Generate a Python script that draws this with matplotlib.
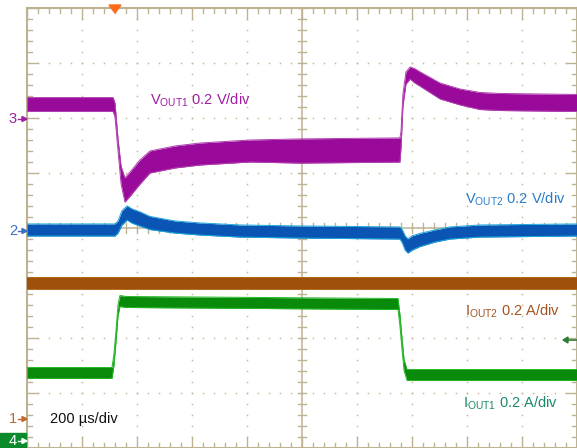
import numpy as np
import matplotlib
matplotlib.use("Agg")
import matplotlib.pyplot as plt
from matplotlib.transforms import Affine2D
from matplotlib.patches import Polygon, Rectangle
from matplotlib.lines import Line2D

plt.rcParams['font.family'] = ['Liberation Sans', 'DejaVu Sans']
plt.rcParams['mathtext.fontset'] = 'custom'
plt.rcParams['mathtext.rm'] = 'Liberation Sans'

# ---- data (time in µs from left edge, amplitude in screen divisions) ----
v1_t = [0, 313, 320, 331, 342, 356, 375, 411, 447, 538, 629, 811, 993, 1356, 1360, 1367, 1378, 1393, 1411, 1429, 1502, 1575, 1647, 1720, 2000]
v1_y = [6.245, 6.245, 6.145, 5.509, 4.964, 4.691, 4.80, 5.018, 5.20, 5.291, 5.345, 5.40, 5.40, 5.418, 5.60, 6.327, 6.727, 6.818, 6.764, 6.709, 6.491, 6.382, 6.309, 6.291, 6.273]
v1_hw = [0.127, 0.127, 0.127, 0.11, 0.16, 0.22, 0.22, 0.22, 0.20, 0.20, 0.20, 0.20, 0.22, 0.22, 0.15, 0.11, 0.11, 0.11, 0.13, 0.13, 0.145, 0.145, 0.155, 0.155, 0.155]

v2_t = [0, 320, 331, 345, 364, 382, 411, 447, 538, 629, 775, 993, 1356, 1364, 1375, 1385, 1400, 1429, 1484, 1538, 1647, 2000]
v2_y = [3.964, 3.964, 4.018, 4.182, 4.273, 4.218, 4.164, 4.091, 4.018, 3.982, 3.945, 3.927, 3.909, 3.855, 3.727, 3.673, 3.727, 3.782, 3.855, 3.909, 3.945, 3.964]
v2_hw = [0.11, 0.11, 0.11, 0.13, 0.13, 0.13, 0.13, 0.12, 0.11, 0.11, 0.11, 0.11, 0.11, 0.12, 0.13, 0.13, 0.13, 0.12, 0.11, 0.11, 0.11, 0.11]

i2_t = [0, 2000]
i2_y = [3.0, 3.0]
i2_hw = [0.11, 0.11]

i1_t = [0, 309, 316, 324, 331, 338, 360, 1349, 1356, 1364, 1371, 1382, 2000]
i1_y = [1.364, 1.364, 1.60, 2.055, 2.509, 2.673, 2.655, 2.618, 2.327, 1.873, 1.509, 1.327, 1.327]
i1_hw = [0.10] * 13

labels = ["V$_\\mathregular{OUT1}$ 0.2 V/div", "V$_\\mathregular{OUT2}$ 0.2 V/div",
          "I$_\\mathregular{OUT2}$ 0.2 A/div", "I$_\\mathregular{OUT1}$ 0.2 A/div"]
timebase = "200 µs/div"

W, H = 577, 448
fig = plt.figure(figsize=(W / 100, H / 100), dpi=100)
fig.patch.set_facecolor('white')
ax = fig.add_axes([27 / W, 0, 550 / W, 440 / H])
ax.set_xlim(0, 2000)
ax.set_ylim(0, 8)
ax.axis('off')
pix = Affine2D().scale(1 / W, -1 / H).translate(0, 1) + fig.transFigure

gcol = '#bdb392'
dcol = '#c4bb9a'
# dotted grid
for i in range(1, 10):
    if i == 5:
        continue
    ys = np.arange(0, 8.01, 0.2)
    ax.plot([i * 200] * len(ys), ys, ls='none', marker='s', ms=1.1, color=dcol, mew=0)
for j in range(1, 8):
    if j == 4:
        continue
    xs = np.arange(0, 2000.1, 40)
    ax.plot(xs, [j] * len(xs), ls='none', marker='s', ms=1.1, color=dcol, mew=0)

# center axes
ax.plot([1000, 1000], [0, 8], color=gcol, lw=1.1)
ax.plot([0, 2000], [4, 4], color=gcol, lw=1.1)
for k in range(0, 41):
    y = k * 0.2
    ax.plot([1000 - 16, 1000 + 16], [y, y], color=gcol, lw=1.0)
for k in range(0, 51):
    x = k * 40
    ax.plot([x, x], [4 - 0.09, 4 + 0.09], color=gcol, lw=1.0)

# border
ax.plot([0, 0], [0, 8], color=gcol, lw=1.5, clip_on=False)
ax.plot([0, 2000], [8, 8], color=gcol, lw=1.5, clip_on=False)
ax.plot([2000, 2000], [0, 8], color=gcol, lw=1.5, clip_on=False)
ax.plot([0, 2000], [0, 0], color=gcol, lw=1.5, clip_on=False)
for k in range(0, 41):
    y = k * 0.2
    L = 40 if k % 5 == 0 else 18
    ax.plot([0, L], [y, y], color=gcol, lw=1.0)
    ax.plot([2000 - L, 2000], [y, y], color=gcol, lw=1.0)
for k in range(0, 51):
    x = k * 40
    L = 0.2 if k % 5 == 0 else 0.09
    ax.plot([x, x], [8 - L, 8], color=gcol, lw=1.0)
    ax.plot([x, x], [0, L], color=gcol, lw=1.0)

# traces
def trace(t, y, hw, fc, ec):
    y = np.array(y); hw = np.array(hw)
    ax.fill_between(t, y - hw, y + hw, color=fc, lw=0, zorder=5)
    ax.plot(t, y + hw, color=ec, lw=0.7, zorder=5)
    ax.plot(t, y - hw, color=ec, lw=0.7, zorder=5)

trace(i2_t, i2_y, i2_hw, '#a0500a', '#b06a1a')
trace(i1_t, i1_y, i1_hw, '#0a8a0a', '#22b822')
trace(v2_t, v2_y, v2_hw, '#0a55b4', '#1aa8dc')
trace(v1_t, v1_y, v1_hw, '#9a0a9a', '#b040b0')

fs = 10.5
ax.text(448, 6.255, labels[0], color='#a01ea0', fontsize=fs, va='baseline', zorder=6)
ax.text(1593, 4.455, labels[1], color='#2a7cc8', fontsize=fs, va='baseline', zorder=6)
ax.text(1593, 2.418, labels[2], color='#a4541e', fontsize=fs, va='baseline', zorder=6)
ax.text(1586, 0.745, labels[3], color='#1a8a6a', fontsize=fs, va='baseline', zorder=6)
ax.text(84, 0.455, timebase, color='#111111', fontsize=fs, va='baseline', zorder=6)

# channel markers (figure pixel coordinates)
def marker(ch, y, col, box=False):
    tc = col
    if box:
        fig.patches.append(Rectangle((0, y - 8), 26, 16, transform=pix, color=col))
        tc = 'white'
    fig.text(13, y, ch, transform=pix, color=tc, fontsize=10.5, ha='center', va='center')
    fig.lines.append(Line2D([18, 24], [y, y], transform=pix, color=tc, lw=1.0))
    fig.patches.append(Polygon([[22, y - 2.5], [22, y + 2.5], [27, y]], closed=True, transform=pix, color=tc))

marker('3', 119, '#a01ea0')
marker('2', 231, '#3a6fc0')
marker('1', 419, '#c0682a')
marker('4', 441, '#0a8a2a', box=True)

# right-side arrow
fig.lines.append(Line2D([566, 577], [340, 340], transform=pix, color='#2e7d32', lw=1.2))
fig.patches.append(Polygon([[563, 340], [568, 337], [568, 343]], closed=True, transform=pix, color='#2e7d32'))
# trigger marker
fig.patches.append(Polygon([[109, 5], [121, 5], [115, 13]], closed=True, transform=pix, color='#ff6a1a'))

fig.savefig('out.png', dpi=100, facecolor='white')
